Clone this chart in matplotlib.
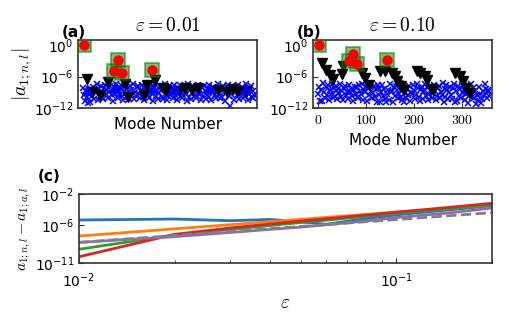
import numpy as np
import matplotlib
matplotlib.use("Agg")
import matplotlib.pyplot as plt
from matplotlib.ticker import FuncFormatter, NullLocator, LogLocator

plt.rcParams['mathtext.fontset'] = 'cm'
plt.rcParams['font.family'] = ['DejaVu Sans']

# ---- panel (a)/(b) data: log10 of |a_{1;n,l}| ----
modes_all = np.arange(0, 360, 2)
blue_a = [-8.1, -9.4, -10.6, -8.7, -9.9, -11.0, -9.2, -10.9, -8.4, -9.7, -7.9, -10.2, -8.8, -9.1, -7.4, -10.4, -8.3, -9.6, -8.9, -7.8,
          -9.8, -10.3, -8.2, -7.5, -9.3, -8.6, -10.1, -9.0, -7.7, -8.5, -9.5, -10.7, -8.0, -9.2, -7.3, -8.9, -10.0, -9.4, -8.1, -7.6,
          -9.7, -8.4, -10.5, -8.8, -7.5, -9.1, -8.3, -9.9, -10.2, -7.8, -8.6, -9.4, -7.4, -10.3, -8.9, -9.6, -8.0, -7.7, -9.3, -10.1,
          -8.5, -7.6, -9.8, -8.2, -10.4, -9.0, -7.9, -8.7, -9.5, -10.0, -7.5, -8.4, -9.2, -10.6, -8.1, -7.3, -9.7, -8.8, -10.2, -9.1,
          -7.8, -8.6, -9.9, -10.3, -8.3, -7.4, -9.4, -8.0, -10.5, -9.6, -7.7, -8.9, -9.3, -8.2, -10.0, -7.5, -8.8, -9.7, -10.4, -8.5,
          -9.0, -7.6, -8.4, -10.1, -9.5, -7.9, -8.7, -9.2, -10.6, -8.1, -7.4, -9.8, -8.5, -10.2, -9.1, -7.8, -8.3, -9.6, -10.0, -8.9,
          -7.5, -9.3, -8.6, -10.4, -8.0, -9.7, -7.7, -8.8, -10.3, -9.4, -8.2, -7.6, -9.9, -8.5, -10.5, -9.0, -7.9, -8.4, -9.5, -10.1,
          -8.7, -7.3, -9.2, -10.0, -8.3, -9.8, -7.8, -8.9, -10.6, -9.1, -8.0, -7.5, -9.6, -11.6, -8.6, -9.3, -7.7, -8.4, -10.4, -9.0,
          -8.2, -9.5, -7.6, -10.3, -8.8, -9.1, -7.9, -10.0, -8.5, -9.7, -7.4, -8.3, -10.5, -9.2, -8.1, -7.8, -9.9, -8.7, -10.1, -9.4]
blue_b = [-9.2, -7.9, -10.6, -8.5, -10.6, -7.2, -8.9, -10.1, -8.0, -9.5, -7.6, -10.4, -8.6, -9.3, -7.4, -10.0, -8.2, -9.7, -8.8, -7.7,
          -10.2, -8.4, -9.1, -7.3, -9.9, -8.7, -10.5, -8.1, -7.8, -9.4, -8.9, -10.3, -7.5, -9.0, -8.3, -9.6, -10.7, -8.6, -7.9, -9.2,
          -8.0, -9.8, -10.1, -7.6, -8.8, -9.3, -7.4, -10.4, -8.5, -9.0, -7.8, -10.6, -8.2, -9.5, -7.3, -8.7, -10.0, -9.1, -7.7, -9.9,
          -8.4, -10.9, -7.5, -9.4, -8.1, -10.8, -8.9, -7.6, -9.7, -8.3, -10.2, -10.8, -9.2, -8.6, -10.5, -7.4, -9.0, -8.8, -10.9, -8.0,
          -9.6, -7.7, -8.5, -10.1, -9.3, -7.2, -8.7, -9.8, -10.4, -8.2, -10.9, -9.1, -10.0, -8.4, -9.5, -7.8, -10.7, -8.9, -9.2, -7.6,
          -8.6, -10.2, -9.4, -7.3, -8.1, -9.9, -10.6, -8.3, -7.9, -9.0, -10.3, -8.8, -7.4, -9.7, -8.0, -10.5, -9.3, -7.7, -8.5, -10.0,
          -9.1, -7.5, -8.7, -10.4, -9.6, -8.2, -7.8, -10.1, -8.9, -9.4, -7.2, -10.8, -8.4, -9.8, -7.6, -8.6, -10.2, -9.0, -7.9, -9.5,
          -10.3, -8.1, -7.4, -10.9, -8.8, -10.6, -7.7, -9.7, -8.3, -10.0, -7.5, -9.1, -8.6, -10.4, -7.8, -9.3, -8.0, -11.0, -9.6, -8.5,
          -7.3, -9.9, -8.2, -10.1, -8.7, -11.1, -9.4, -10.5, -8.0, -9.2, -11.0, -10.2, -8.8, -9.5, -7.4, -8.4, -10.0, -9.0, -8.6, -9.7]

tri_blue_modes_a = [8, 66, 146, 192, 265, 338]
tri_blue_a = [-8.6, -8.0, -8.2, -8.4, -8.1, -8.3]

black_modes_a = [8, 18, 35, 52, 87, 94, 126, 133, 150, 167, 174, 200, 213, 227, 240, 282, 300, 314, 324, 340]
black_a = [-6.5, -8.9, -9.5, -7.0, -7.3, -9.8, -9.5, -7.6, -6.6, -8.2, -8.6, -8.7, -8.2, -8.5, -8.2, -8.5, -8.9, -8.3, -8.7, -8.9]
black_modes_b = [8, 17, 24, 31, 49, 52, 91, 98, 105, 129, 140, 154, 160, 165, 172, 180, 206, 213, 223, 228, 236, 240, 286, 296, 303, 310, 317]
black_b = [-3.4, -4.7, -5.6, -6.4, -5.5, -4.05, -5.3, -6.3, -7.5, -5.0, -4.9, -5.3, -5.9, -6.8, -7.8, -8.6, -5.0, -5.3, -5.9, -6.6, -8.3, -8.5, -5.3, -5.9, -6.9, -8.2, -9.1]

sel_modes = [1, 64, 72, 81, 144]
sel_a = [-0.06, -5.0, -2.78, -5.37, -4.8]
sel_b = [-0.05, -2.98, -1.65, -3.6, -2.78]

# ---- panel (c) data: log10 of a_{1;n,l} - a_{1;a,l} ----
eps = [0.01, 0.02, 0.03, 0.04, 0.05, 0.06, 0.08, 0.1, 0.15, 0.2]
err_blue = [-5.37, -5.24, -5.46, -5.3, -5.6, -5.93, -5.2, -4.7, -4.0, -3.5]
err_orange = [-7.47, -6.53, -5.98, -5.59, -5.28, -5.03, -4.64, -4.33, -3.79, -3.40]
err_green = [-9.2, -7.33, -6.6, -6.1, -5.7, -5.4, -4.9, -4.5, -3.9, -3.45]
err_red = [-10.18, -7.25, -6.4, -5.9, -5.52, -5.22, -4.73, -4.35, -3.68, -3.18]
err_purple = [-8.3, -7.55, -7.0, -6.6, -6.3, -6.0, -5.5, -5.05, -4.4, -3.8]
ref_eps = [0.01, 0.2]
ref_line = [-8.3, -4.41]


def style_axes(ax):
    for s in ax.spines.values():
        s.set_color('#333333')
        s.set_linewidth(1.2)
    ax.tick_params(direction='in', which='both', labelsize=10, color='#333333')


math_fmt = FuncFormatter(lambda v, p: r'$%g$' % v)

fig = plt.figure(figsize=(5.1, 3.19), dpi=100)
ax_a = fig.add_axes([0.1535, 0.6605, 0.351, 0.215])
ax_b = fig.add_axes([0.6143, 0.6605, 0.351, 0.215])
ax_c = fig.add_axes([0.155, 0.1755, 0.809, 0.2155])

panels = [(ax_a, blue_a, black_modes_a, black_a, sel_a, '0.01', '(a)'),
          (ax_b, blue_b, black_modes_b, black_b, sel_b, '0.10', '(b)')]
for ax, blue, bm, bl, sel, eps_txt, lab in panels:
    ax.set_yscale('log')
    ax.plot(modes_all, 10.0 ** np.array(blue), 'x', color='blue', ms=4.5, mew=1.1, zorder=2)
    ax.plot(bm, 10.0 ** np.array(bl), 'v', color='black', ms=7, zorder=3)
    ax.plot(sel_modes, 10.0 ** np.array(sel), 's', color='green', alpha=0.5, ms=9.5, mew=1.5, zorder=4)
    ax.plot(sel_modes, 10.0 ** np.array(sel), 'o', color='red', ms=6.5, zorder=5)
    if ax is ax_a:
        ax.plot(tri_blue_modes_a, 10.0 ** np.array(tri_blue_a), '^', color='blue', ms=7, zorder=3.5)
    ax.set_xlim(-10.5, 364)
    ax.set_ylim(1e-12, 1e1)
    ax.set_yticks([1e0, 1e-6, 1e-12])
    ax.yaxis.set_minor_locator(NullLocator())
    ax.set_title(r'$\varepsilon = %s$' % eps_txt, fontsize=14, pad=6)
    ax.text(-0.092, 1.0, lab, transform=ax.transAxes, fontsize=11, fontweight='bold', ha='left', va='bottom')
    ax.set_xlabel('Mode Number', fontsize=11)
    style_axes(ax)

ax_a.set_xticks([])
ax_a.xaxis.labelpad = 6
ax_a.set_ylabel(r'$|a_{1;n,l}|$', fontsize=14, labelpad=0)
ax_b.set_xticks([0, 100, 200, 300])
ax_b.xaxis.set_major_formatter(math_fmt)

# panel (c)
series = [(err_blue, 'tab:blue'), (err_orange, 'tab:orange'), (err_green, 'tab:green'),
          (err_red, 'tab:red'), (err_purple, 'tab:purple')]
ax_c.set_xscale('log')
ax_c.set_yscale('log')
for vals, col in series:
    ax_c.plot(eps, 10.0 ** np.array(vals), '-', color=col, lw=2)
ax_c.plot(ref_eps, 10.0 ** np.array(ref_line), '--', color='gray', lw=2)
ax_c.set_xlim(0.01, 0.2)
ax_c.set_ylim(1e-11, 1e-2)
ax_c.set_yticks([1e-11, 1e-6, 1e-2])
ax_c.yaxis.set_minor_locator(NullLocator())
ax_c.xaxis.set_minor_locator(LogLocator(subs=np.arange(2, 10)))
style_axes(ax_c)
ax_c.tick_params(axis='x', which='major', pad=6)
ax_c.set_xlabel(r'$\varepsilon$', fontsize=14, labelpad=2)
ax_c.set_ylabel(r'$a_{1;n,l} - a_{1;a,l}$', fontsize=11, labelpad=1)
ax_c.text(-0.1, 1.15, '(c)', transform=ax_c.transAxes, fontsize=11, fontweight='bold', ha='left', va='bottom')

fig.savefig('out.png', dpi=100)
